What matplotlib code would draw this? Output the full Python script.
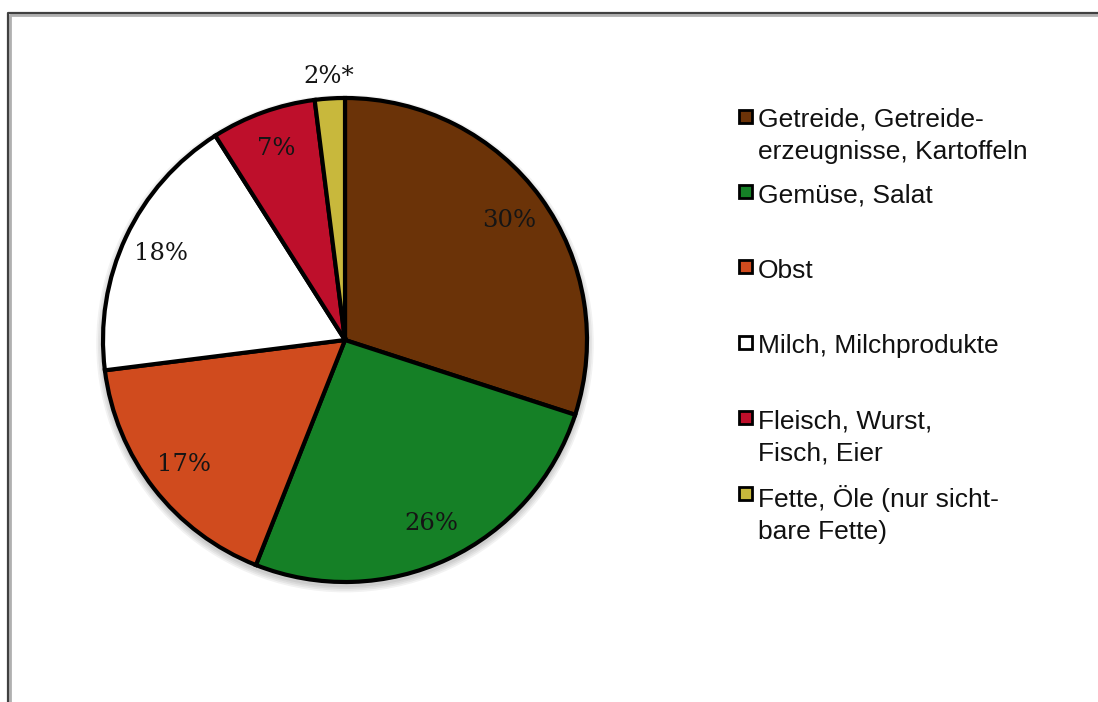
import math
import matplotlib
matplotlib.use("Agg")
import matplotlib.pyplot as plt
from matplotlib.lines import Line2D
from matplotlib.patches import Rectangle, Circle

# data
labels = ["Getreide, Getreide-\nerzeugnisse, Kartoffeln", "Gemüse, Salat", "Obst",
          "Milch, Milchprodukte", "Fleisch, Wurst,\nFisch, Eier",
          "Fette, Öle (nur sicht-\nbare Fette)"]
values = [30, 26, 17, 18, 7, 2]
pct_text = ["30%", "26%", "17%", "18%", "7%", "2%*"]
colors = ["#6b3308", "#158026", "#d04b1e", "#ffffff", "#be0f2b", "#c8b83c"]

W, H = 1098, 702
fig = plt.figure(figsize=(W / 100, H / 100), dpi=100)

# page frame (left and top edges only)
fig.add_artist(Line2D([10 / W, 10 / W, 1], [0, 1 - 15 / H, 1 - 15 / H],
                      color="#b0b0b0", lw=2.0, transform=fig.transFigure))
fig.add_artist(Line2D([8 / W, 8 / W, 1], [0, 1 - 13 / H, 1 - 13 / H],
                      color="#404040", lw=1.6, transform=fig.transFigure))

cx, cy, r = 345, 340, 242
ax = fig.add_axes([(cx - r) / W, (H - cy - r) / H, 2 * r / W, 2 * r / H])
ax.axis("off")

# soft shadow
for i in range(4):
    ax.add_patch(Circle((0, -0.015), 1.0 + 0.007 * (i + 1), color="black", alpha=0.05,
                        lw=0, zorder=0, clip_on=False))

wedges, _ = ax.pie(values, colors=colors, startangle=90, counterclock=False, radius=1,
                   wedgeprops=dict(edgecolor="black", linewidth=3.0))
for w in wedges:
    w.set_zorder(2)
ax.set_xlim(-1, 1)
ax.set_ylim(-1, 1)
ax.set_aspect("equal")

ang = 90.0
for v, t in zip(values, pct_text):
    mid = ang - v * 3.6 / 2
    ang -= v * 3.6
    d = 1.09 if v < 5 else 0.84
    x, y = d * math.cos(math.radians(mid)), d * math.sin(math.radians(mid))
    ax.text(x, y, t, ha="center", va="center", fontsize=17.5, family="DejaVu Serif",
            color="#151515", zorder=5, clip_on=False)

# legend
lx, ly0, step = 745, 116, 75.4
for i, (lab, c) in enumerate(zip(labels, colors)):
    y = ly0 + i * step
    fig.add_artist(Rectangle(((lx - 6.5) / W, 1 - (y + 6.5) / H), 13 / W, 13 / H,
                             facecolor=c, edgecolor="black", lw=2.0,
                             transform=fig.transFigure))
    fig.text(758 / W, 1 - (y - 8) / H, lab, ha="left", va="top", fontsize=19,
             family="Liberation Sans", linespacing=1.4, color="#111111")

fig.savefig("out.png", dpi=100)
